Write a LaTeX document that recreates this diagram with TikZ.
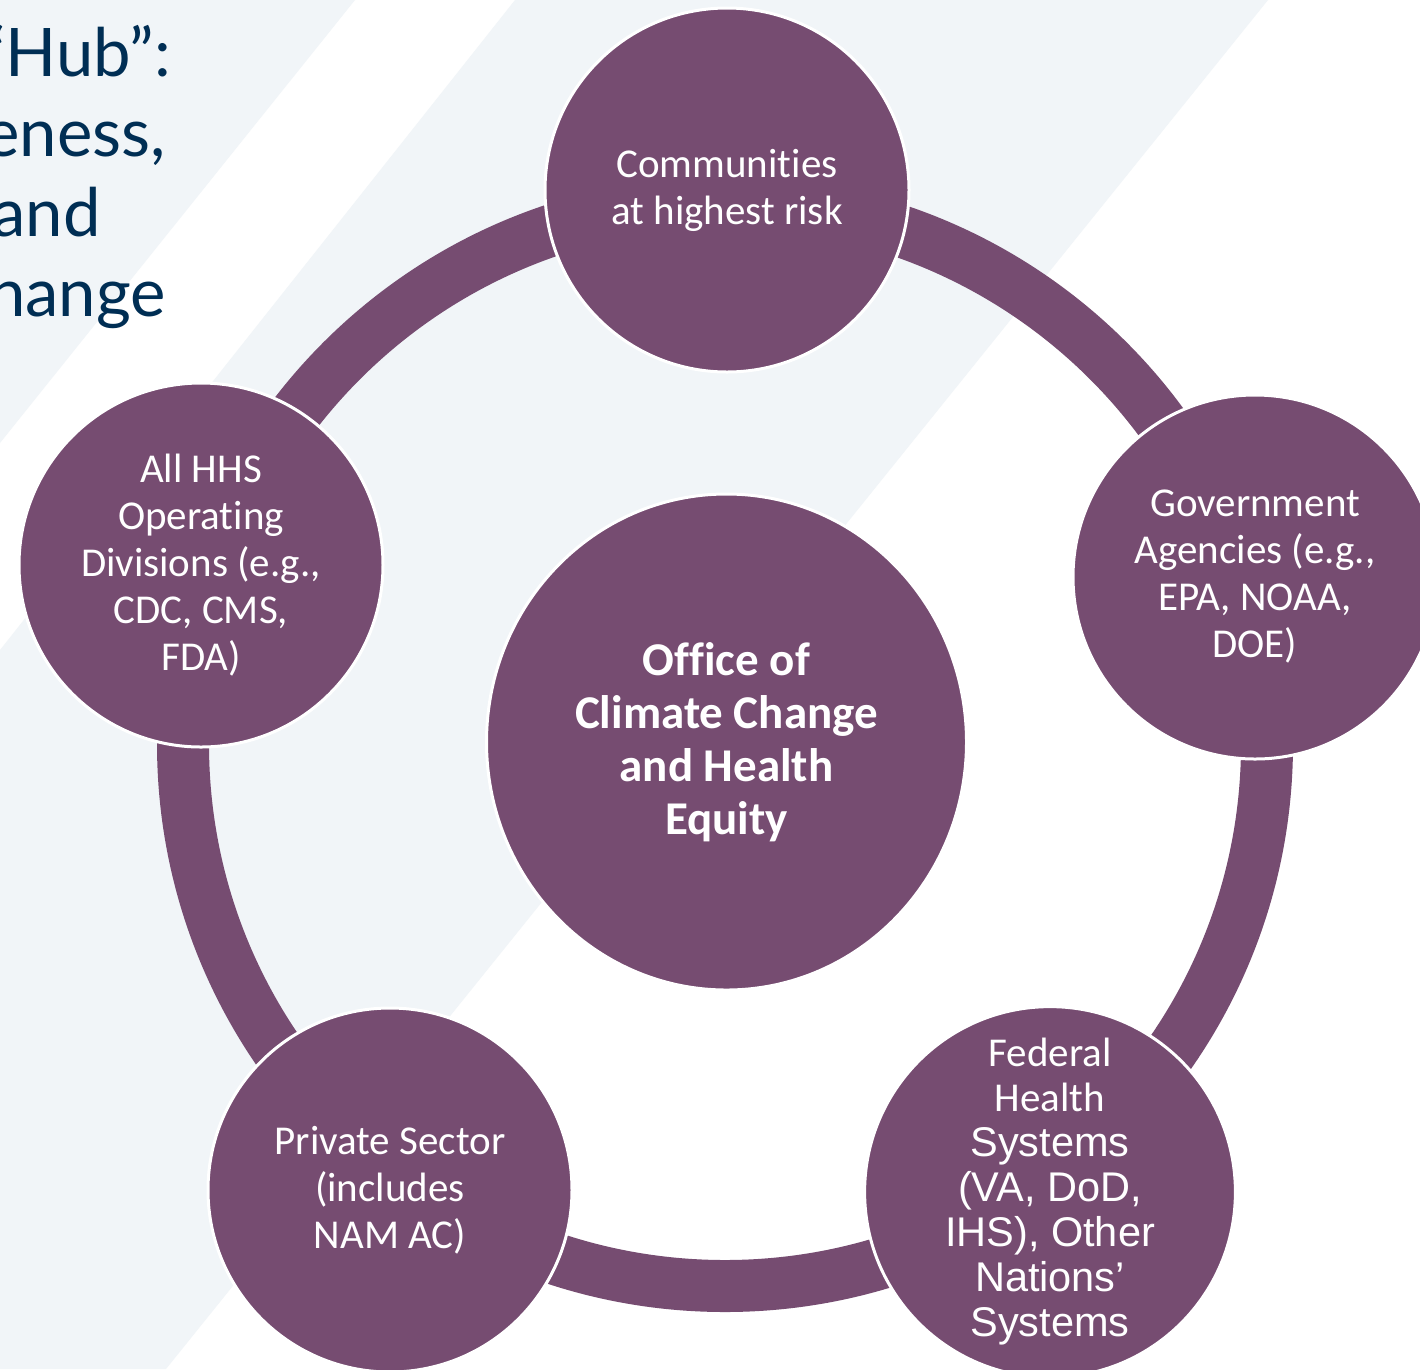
\documentclass[tikz,border=0pt]{standalone}
\usepackage{fontspec}
\usepackage{tikz}
\usetikzlibrary{shapes,positioning,calc}
\newfontfamily\calibfont[Ligatures=NoCommon]{Carlito}
\newfontfamily\arialfont{Liberation Sans}
\newfontfamily\latofont{Lato}

\begin{document}
\begin{tikzpicture}[x=1pt,y=1pt,yscale=-1,xscale=1,
  stripe/.style={fill={rgb, 255:red, 241; green, 245; blue, 248 }},
  ring/.style={draw={rgb, 255:red, 118; green, 76; blue, 113 }, line width=52pt},
  partner/.style={circle, fill={rgb, 255:red, 118; green, 76; blue, 113 }, draw=white, line width=3pt,
    minimum size=364pt, inner sep=0pt, text=white, align=center,
    font=\calibfont\fontsize{41}{47}\selectfont},
  office/.style={ellipse, fill={rgb, 255:red, 118; green, 76; blue, 113 }, draw=white, line width=3pt,
    minimum width=480pt, minimum height=496pt, inner sep=0pt, text=white, align=center,
    font=\calibfont\bfseries\fontsize{47}{53}\selectfont},
  heading/.style={anchor=base east, inner sep=0pt, text={rgb, 255:red, 0; green, 46; blue, 84 },
    font=\latofont\fontsize{67}{80}\selectfont}]

\useasboundingbox (0,0) rectangle (1420,1369);
\clip (0,0) rectangle (1420,1369);
\fill[white] (0,0) rectangle (1420,1369);

%Shape: Polygon
\fill[stripe] (0,0) -- (355,0) -- (0,443) -- cycle;
%Shape: Polygon
\fill[stripe] (515,0) -- (1268,0) -- (166,1369) -- (0,1369) -- (0,650) -- cycle;

% Text Node
\draw (171,76) node [heading] (head1) {“Hub”:};
% Text Node
\draw (166,156) node [heading] (head2) {eness,};
% Text Node
\draw (101,236) node [heading] (head3) {and};
% Text Node
\draw (166,316) node [heading] (head4) {hange};

%Shape: Circle
\coordinate (hubc) at (725,744);
\draw [ring] (hubc) circle (542pt);

%Shape: Circle
\node [partner] (risk) at (727,190) {Communities\\at highest risk};
%Shape: Circle
\node [partner] (gov) at (1255,577) {Government\\Agencies (e.g.,\\EPA, NOAA,\\DOE)};
%Shape: Circle
\node [partner, font=\arialfont\fontsize{41.5}{45}\selectfont] (fed) at (1050,1192)
  {{\calibfont\fontsize{41}{45}\selectfont Federal}\\{\calibfont\fontsize{41}{45}\selectfont Health}\\Systems\\(VA, DoD,\\IHS), Other\\Nations’\\Systems};
%Shape: Circle
\node [partner] (priv) at (390,1190) {Private Sector\\(includes\\NAM AC)};
%Shape: Circle
\node [partner] (opdiv) at (201,565) {All HHS\\Operating\\Divisions (e.g.,\\CDC, CMS,\\FDA)};

%Shape: Circle
\node [office] (office) at (726.5,742) {Office of\\Climate Change\\and Health\\Equity};

\end{tikzpicture}
\end{document}
